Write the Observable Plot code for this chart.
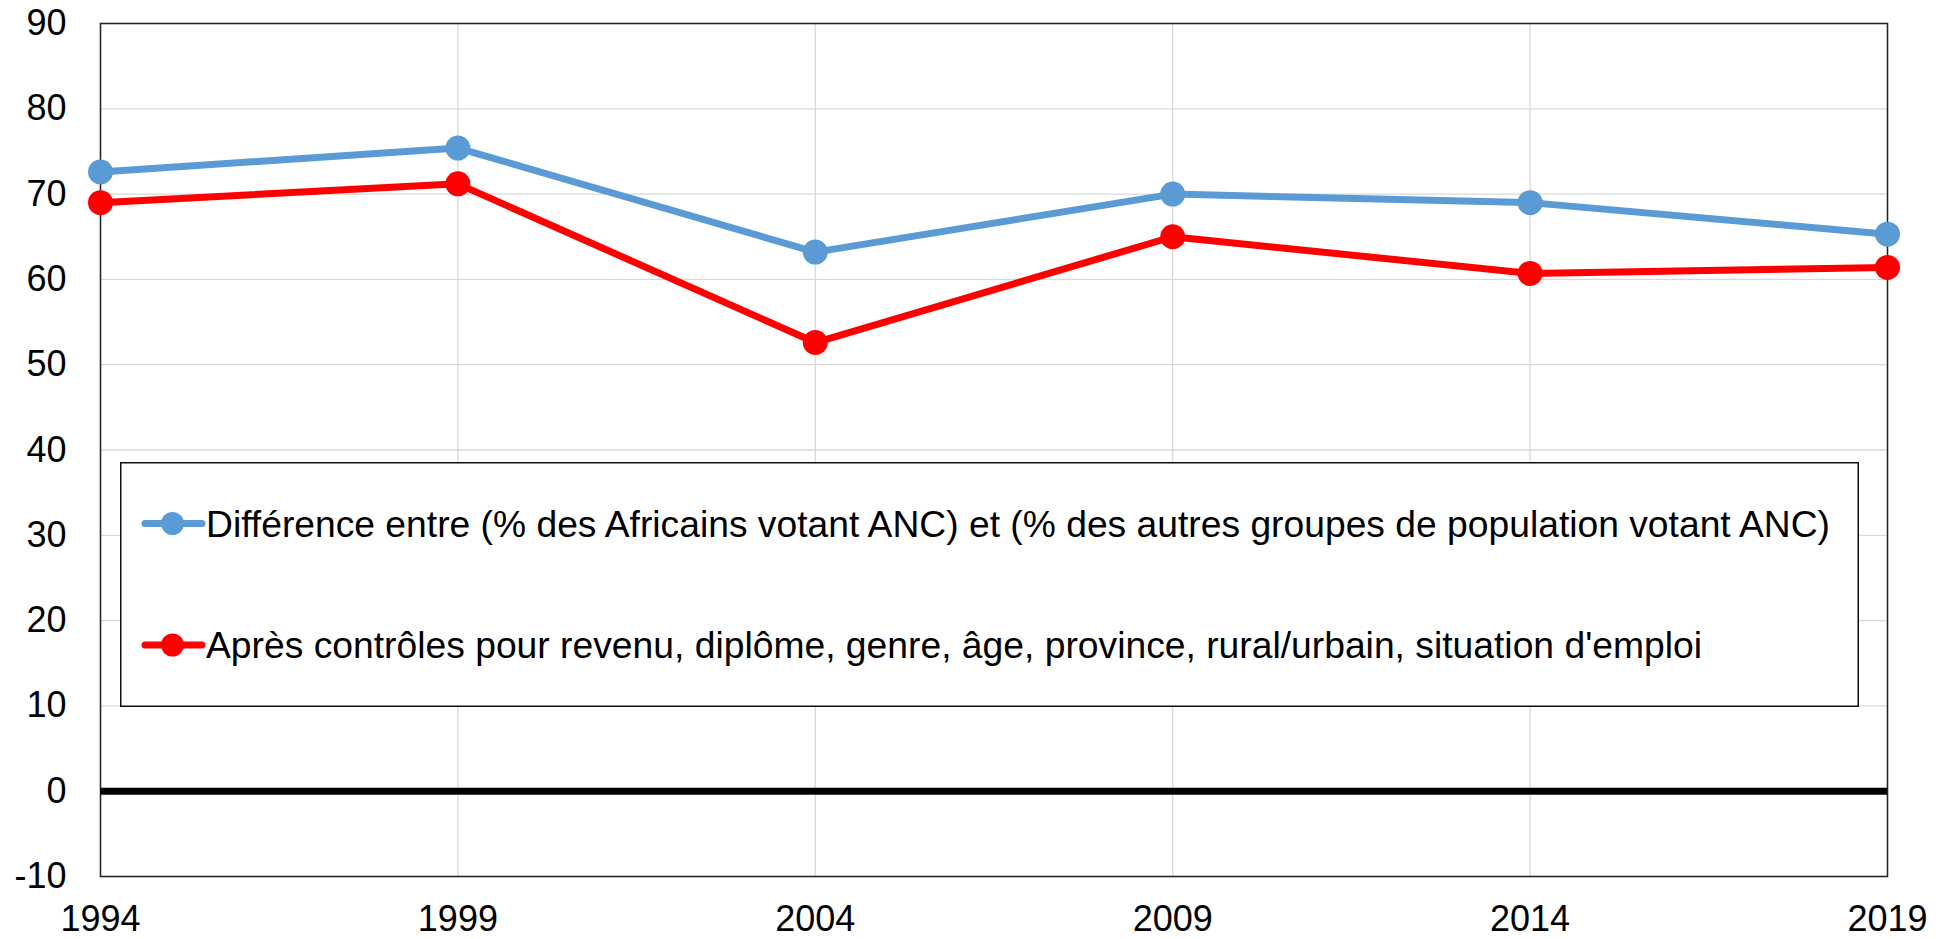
<!DOCTYPE html>
<html>
<head>
<meta charset="utf-8">
<script src="https://cdn.jsdelivr.net/npm/d3@7"></script>
<script src="https://cdn.jsdelivr.net/npm/@observablehq/plot@0.6"></script>
<style>
  html, body { margin: 0; padding: 0; background: #fff; }
  #wrap { position: relative; width: 1951px; height: 939px; font-family: "Liberation Sans", Arial, sans-serif; }
  #legend { position: absolute; left: 120px; top: 462px; }
</style>
</head>
<body>
<div id="wrap"></div>
<script>
// ---- Data ----
const years = [1994, 1999, 2004, 2009, 2014, 2019];
const diffRaw = [72.6, 75.4, 63.2, 70.0, 69.0, 65.3];
const diffControls = [69.0, 71.2, 52.6, 65.0, 60.7, 61.4];
const yTicks = [-10, 0, 10, 20, 30, 40, 50, 60, 70, 80, 90];
const seriesNames = [
  "Différence entre (% des Africains votant ANC) et (% des autres groupes de population votant ANC)",
  "Après contrôles pour revenu, diplôme, genre, âge, province, rural/urbain, situation d'emploi"
];
const seriesColors = ["#5B9BD5", "#FF0000"];

const rows = [];
years.forEach((y, i) => {
  rows.push({year: y, value: diffRaw[i], series: seriesNames[0]});
  rows.push({year: y, value: diffControls[i], series: seriesNames[1]});
});
const raw = rows.filter(d => d.series === seriesNames[0]);
const ctl = rows.filter(d => d.series === seriesNames[1]);

const chart = Plot.plot({
  width: 1951,
  height: 939,
  marginLeft: 100,
  marginRight: 64,
  marginTop: 23,
  marginBottom: 63,
  style: {fontFamily: '"Liberation Sans", Arial, sans-serif', fontSize: "35px", color: "#000", background: "#fff"},
  x: {domain: [1994, 2019], ticks: years, tickFormat: d => String(d), label: null},
  y: {domain: [-10, 90], ticks: yTicks, tickFormat: d => String(d), label: null},
  marks: [
    Plot.gridX(years, {stroke: "#d9d9d9", strokeOpacity: 1, strokeWidth: 1.3}),
    Plot.gridY(yTicks, {stroke: "#d9d9d9", strokeOpacity: 1, strokeWidth: 1.3}),
    Plot.frame({stroke: "#222", strokeWidth: 1.5}),
    Plot.axisY(yTicks, {tickSize: 0, tickPadding: 34, fontSize: 36, fill: "#000", tickFormat: d => String(d)}),
    Plot.axisX(years, {tickSize: 0, tickPadding: 29, fontSize: 36, fill: "#000", tickFormat: d => String(d)}),
    Plot.ruleY([0], {stroke: "#000", strokeWidth: 7}),
    Plot.line(raw, {x: "year", y: "value", stroke: seriesColors[0], strokeWidth: 7}),
    Plot.dot(raw, {x: "year", y: "value", r: 12.5, fill: seriesColors[0], stroke: "none"}),
    Plot.line(ctl, {x: "year", y: "value", stroke: seriesColors[1], strokeWidth: 7}),
    Plot.dot(ctl, {x: "year", y: "value", r: 12.5, fill: seriesColors[1], stroke: "none"})
  ]
});
const wrap = document.getElementById("wrap");
wrap.appendChild(chart);

// ---- Legend (overlay box) ----
const lw = 1739, lh = 245;
const textLens = [1624, 1496];
const rowY = [61.5, 183];
const legend = d3.create("svg")
  .attr("id", "legend")
  .attr("width", lw)
  .attr("height", lh);
legend.append("rect")
  .attr("x", 0.75).attr("y", 0.75)
  .attr("width", lw - 1.5).attr("height", lh - 1.5)
  .attr("fill", "#fff").attr("stroke", "#111").attr("stroke-width", 1.5);
seriesNames.forEach((name, i) => {
  const g = legend.append("g").attr("transform", `translate(0,${rowY[i]})`);
  g.append("line").attr("x1", 25).attr("x2", 82).attr("y1", 0).attr("y2", 0)
    .attr("stroke", seriesColors[i]).attr("stroke-width", 7).attr("stroke-linecap", "round");
  g.append("circle").attr("cx", 52.5).attr("cy", 0).attr("r", 11.5).attr("fill", seriesColors[i]);
  g.append("text").attr("x", 86).attr("y", 13)
    .attr("font-family", '"Liberation Sans", Arial, sans-serif')
    .attr("font-size", 37)
    .attr("fill", "#000")
    .attr("textLength", textLens[i])
    .attr("lengthAdjust", "spacingAndGlyphs")
    .text(name);
});
wrap.appendChild(legend.node());
</script>
</body>
</html>
